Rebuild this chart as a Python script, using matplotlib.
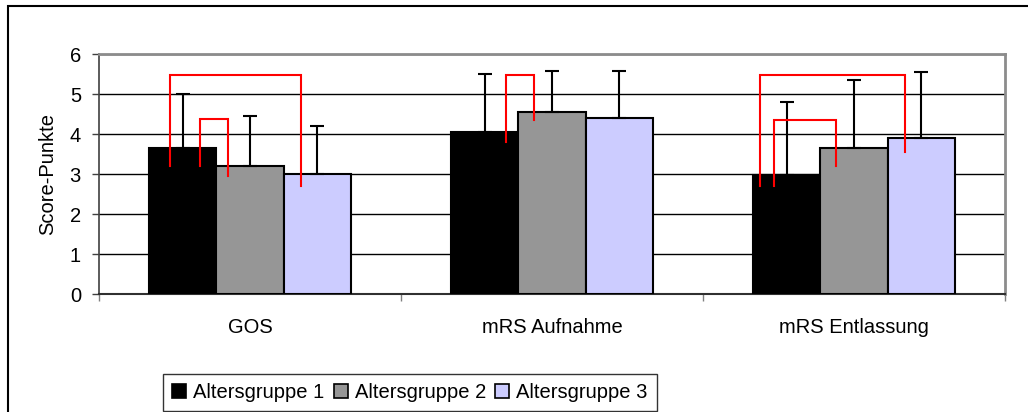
import matplotlib
matplotlib.use("Agg")
import matplotlib.pyplot as plt
from matplotlib.patches import Patch, Rectangle
import numpy as np

plt.rcParams["font.family"] = ["Liberation Sans", "DejaVu Sans"]

# Daten: Mittelwerte und Standardabweichung (nur nach oben)
categories = ["GOS", "mRS Aufnahme", "mRS Entlassung"]
groups = ["Altersgruppe 1", "Altersgruppe 2", "Altersgruppe 3"]
mean_g1 = [3.66, 4.06, 2.97]
mean_g2 = [3.21, 4.54, 3.64]
mean_g3 = [3.00, 4.39, 3.89]
sd_g1 = [1.33, 1.44, 1.82]
sd_g2 = [1.24, 1.04, 1.70]
sd_g3 = [1.20, 1.19, 1.65]

# Signifikanz-Klammern: (Kategorie, Gruppe links, Gruppe rechts, Höhe, Ende links, Ende rechts)
brackets = [
    (0, 0, 2, 5.47, 3.21, 2.70),
    (0, 0, 1, 4.37, 3.21, 2.96),
    (1, 0, 1, 5.47, 3.81, 4.34),
    (2, 0, 2, 5.47, 2.70, 3.56),
    (2, 0, 1, 4.36, 2.70, 3.20),
]
# horizontale Verschiebung der Klammerenden gegenüber der Balkenmitte
bracket_dx = [(-0.043, -0.055), (0.057, -0.072), (0.070, -0.058),
              (-0.088, -0.055), (-0.042, -0.058)]

colors = ["#000000", "#969696", "#CCCCFF"]
FS = 14.5

fig = plt.figure(figsize=(10.28, 4.12), dpi=100)
ax = fig.add_axes([99 / 1028, 118 / 412, 906 / 1028, 240 / 412])

x = np.arange(len(categories))
w = 2 / 9
means = [mean_g1, mean_g2, mean_g3]
sds = [sd_g1, sd_g2, sd_g3]
for i in range(3):
    pos = x + (i - 1) * w
    ax.bar(pos, means[i], w, color=colors[i], edgecolor="black", linewidth=1.5,
           zorder=3, label=groups[i])
    ax.errorbar(pos, means[i], yerr=[np.zeros(3), sds[i]], fmt="none",
                ecolor="black", elinewidth=1.5, capsize=5, capthick=1.5, zorder=4)

for (c, a, b, top, yl, yr), (dl, dr) in zip(brackets, bracket_dx):
    xl = c + (a - 1) * w + dl
    xr = c + (b - 1) * w + dr
    ax.plot([xl, xl, xr, xr], [yl, top, top, yr], color="red", lw=1.5,
            zorder=5, solid_joinstyle="miter")

ax.set_xlim(-0.5, 2.5)
ax.set_ylim(0, 6)
ax.set_yticks(range(7))
ax.yaxis.grid(True, color="black", linewidth=1)
ax.set_axisbelow(True)
ax.tick_params(axis="y", direction="out", length=5, width=1, pad=8,
               labelsize=FS, color="#404040")

ax.set_xticks(x)
ax.set_xticklabels(categories)
ax.set_xticks([-0.5, 0.5, 1.5, 2.5], minor=True)
ax.tick_params(axis="x", which="major", length=0, pad=17, labelsize=FS)
ax.tick_params(axis="x", which="minor", direction="out", length=5, width=1,
               color="#808080")

ax.set_ylabel("Score-Punkte", fontsize=FS, labelpad=9)

for s in ["top", "right"]:
    ax.spines[s].set_color("#8c8c8c")
    ax.spines[s].set_linewidth(2)
ax.spines["left"].set_color("#404040")
ax.spines["left"].set_linewidth(1.2)
ax.spines["bottom"].set_color("#303030")
ax.spines["bottom"].set_linewidth(1.5)

# Rahmen um das gesamte Diagramm (rechts und unten abgeschnitten)
fig.patches.append(Rectangle((8 / 1028, -0.2), 1.2, 0.2 + 406 / 412,
                             transform=fig.transFigure, fill=False,
                             edgecolor="black", linewidth=1.5))

handles = [Patch(facecolor=colors[i], edgecolor="black", linewidth=1.2)
           for i in range(3)]
leg = fig.legend(handles, groups, loc="lower left",
                 bbox_to_anchor=(163 / 1028, 1 / 412),
                 ncol=3, fontsize=FS, frameon=True,
                 fancybox=False, edgecolor="black", handlelength=0.7,
                 handleheight=0.7, handletextpad=0.35, columnspacing=0.45,
                 borderaxespad=0, borderpad=0.45)
leg.get_frame().set_linewidth(1.0)

fig.savefig("out.png", dpi=100)
